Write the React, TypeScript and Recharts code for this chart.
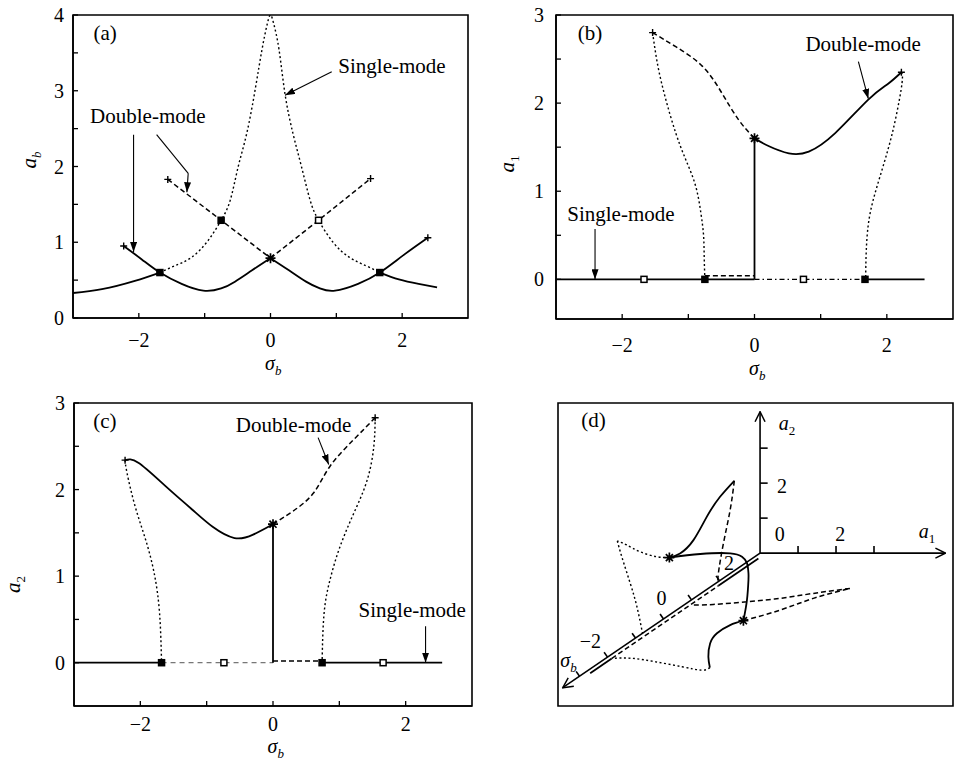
import type { ReactNode } from "react";
import {
  ComposedChart,
  Line,
  XAxis,
  YAxis,
  ReferenceLine,
  ReferenceDot,
  ReferenceArea,
} from "recharts";

const FONT = '"Liberation Serif", "Times New Roman", Times, serif';
const INK = "#000";

type P = [number, number];
type T = [number, number, number];

// shared sigma_b ticks (labels only on even values)
const sigmaTicks = [-2, -1, 0, 1, 2];
const ampTicks4 = [0, 0.5, 1, 1.5, 2, 2.5, 3, 3.5, 4];
const ampTicks3 = [0, 0.5, 1, 1.5, 2, 2.5, 3];

// ---- (a) a_b ----
const abSingleLeft: P[] = [[-3, 0.33], [-2.56, 0.38], [-2.06, 0.49], [-1.68, 0.6]];
const abSinglePeak: P[] = [
  [-1.68, 0.6], [-1.45, 0.69], [-1.2, 0.8], [-0.95, 1.02], [-0.75, 1.29],
  [-0.61, 1.56], [-0.49, 2.0], [-0.36, 2.44], [-0.23, 3.03], [-0.13, 3.54],
  [-0.05, 3.88], [0, 4.0], [0.05, 3.88], [0.13, 3.54], [0.22, 2.96],
  [0.34, 2.44], [0.47, 2.0], [0.6, 1.56], [0.73, 1.29], [0.95, 1.0],
  [1.2, 0.8], [1.45, 0.69], [1.66, 0.6],
];
const abSingleRight: P[] = [[1.66, 0.6], [1.95, 0.51], [2.25, 0.45], [2.53, 0.405]];
const abDoubleLeft: P[] = [
  [-2.23, 0.95], [-1.95, 0.77], [-1.68, 0.6], [-1.35, 0.45], [-1.02, 0.36],
  [-0.75, 0.39], [-0.54, 0.48], [-0.28, 0.63], [0, 0.79],
];
const abDoubleRight: P[] = [
  [0, 0.79], [0.28, 0.63], [0.54, 0.48], [0.75, 0.39], [0.98, 0.36],
  [1.33, 0.45], [1.66, 0.6], [2.02, 0.83], [2.39, 1.06],
];
const abDoubleDashLeft: P[] = [[-1.56, 1.83], [-0.75, 1.29], [0, 0.79]];
const abDoubleDashRight: P[] = [[0, 0.79], [0.73, 1.29], [1.52, 1.84]];
const abSquaresFilled: P[] = [[-1.68, 0.6], [1.66, 0.6], [-0.75, 1.29]];
const abSquaresOpen: P[] = [[0.73, 1.29]];
const abStars: P[] = [[0, 0.79]];
const abEnds: P[] = [[-2.23, 0.95], [2.39, 1.06], [-1.56, 1.83], [1.52, 1.84]];

// ---- (b) a_1 ----
const a1Zero: P[] = [[-3, 0], [0, 0]];
const a1ZeroUnstable: P[] = [[0, 0], [1.66, 0]];
const a1ZeroRight: P[] = [[1.66, 0], [2.57, 0]];
const a1Offset: P[] = [[-0.75, 0.04], [0, 0.04]];
const a1Jump: P[] = [[0, 0], [0, 1.6]];
const a1Upper: P[] = [[-1.54, 2.8], [-1.19, 2.64], [-0.79, 2.42], [-0.49, 2.11], [-0.24, 1.81], [0, 1.6]];
const a1LeftFold: P[] = [
  [-1.54, 2.8], [-1.46, 2.42], [-1.34, 2.04], [-1.19, 1.66], [-1.04, 1.36],
  [-0.89, 1.06], [-0.81, 0.75], [-0.77, 0.5], [-0.76, 0.25], [-0.75, 0],
];
const a1Stable: P[] = [
  [0, 1.6], [0.22, 1.51], [0.52, 1.43], [0.82, 1.45], [1.22, 1.66],
  [1.72, 2.04], [2.02, 2.22], [2.22, 2.35],
];
const a1RightFold: P[] = [
  [2.22, 2.35], [2.23, 2.23], [2.14, 1.85], [2.02, 1.48], [1.87, 1.1],
  [1.74, 0.72], [1.69, 0.34], [1.68, 0],
];
const a1SquaresFilled: P[] = [[-0.75, 0], [1.67, 0]];
const a1SquaresOpen: P[] = [[-1.67, 0], [0.74, 0]];
const a1Stars: P[] = [[0, 1.6]];
const a1Ends: P[] = [[-1.54, 2.8], [2.22, 2.35]];

// ---- (c) a_2 ----
const a2ZeroLeft: P[] = [[-3, 0], [-1.68, 0]];
const a2ZeroMid: P[] = [[-1.68, 0], [0, 0]];
const a2Offset: P[] = [[0, 0.02], [0.74, 0.02]];
const a2ZeroRight: P[] = [[0.74, 0], [2.55, 0]];
const a2Jump: P[] = [[0, 0], [0, 1.6]];
const a2Stable: P[] = [
  [-2.23, 2.34], [-2.03, 2.31], [-1.62, 2.04], [-1.22, 1.77], [-0.91, 1.57],
  [-0.58, 1.44], [-0.3, 1.48], [0, 1.6],
];
const a2Upper: P[] = [[0, 1.6], [0.3, 1.75], [0.61, 1.96], [0.86, 2.27], [1.22, 2.58], [1.54, 2.83]];
const a2LeftFold: P[] = [
  [-2.23, 2.34], [-2.2, 2.19], [-2.08, 1.81], [-1.92, 1.42], [-1.79, 1.03],
  [-1.71, 0.57], [-1.68, 0],
];
const a2RightFold: P[] = [
  [1.54, 2.83], [1.52, 2.5], [1.42, 2.11], [1.22, 1.73], [1.01, 1.34],
  [0.86, 0.96], [0.77, 0.57], [0.74, 0],
];
const a2SquaresFilled: P[] = [[-1.68, 0], [0.74, 0]];
const a2SquaresOpen: P[] = [[-0.74, 0], [1.66, 0]];
const a2Stars: P[] = [[0, 1.6]];
const a2Ends: P[] = [[-2.23, 2.34], [1.54, 2.83]];

// ---- (d) branches in (sigma_b, a1, a2) ----
const dA2Stable: T[] = [[0.21, 0, 1.64], [0.59, 0, 1.55], [1.07, 0, 1.67], [1.55, 0, 2.08], [2.02, 0, 2.39], [2.53, 0, 2.57]];
const dA2Dashed: T[] = [[2.53, 0, 2.57], [2.38, 0, 1.81], [2.14, 0, 0.99], [1.96, 0, 0.23], [1.96, 0, 0]];
const dA2DotTop: T[] = [[0.21, 0, 1.64], [-0.24, 0, 1.91], [-0.84, 0, 2.38], [-1.31, 0, 2.83], [-1.65, 0, 3.13]];
const dA2DotDown: T[] = [[-1.65, 0, 3.13], [-1.49, 0, 2.59], [-1.19, 0, 1.67], [-0.95, 0, 0.87], [-0.75, 0, 0]];
const dA1DashOut: T[] = [[-0.09, 2.17, 0], [0.47, 2.73, 0], [1.08, 3.15, 0], [1.6, 3.73, 0]];
const dA1DashBack: T[] = [[1.6, 3.73, 0], [1.34, 2.96, 0], [1.08, 2.27, 0], [0.9, 1.53, 0], [0.76, 0.75, 0], [0.73, 0.21, 0]];
const dA1Stable: T[] = [[-0.09, 2.17, 0], [-0.32, 1.99, 0], [-0.75, 1.96, 0], [-1.28, 2.17, 0], [-1.98, 2.64, 0], [-2.55, 3.1, 0]];
const dA1Dot: T[] = [[-2.55, 3.1, 0], [-2.68, 2.98, 0], [-2.5, 2.33, 0], [-2.24, 1.43, 0], [-2.06, 0.69, 0], [-2.06, 0.16, 0]];
const dArc: T[] = [
  [0.21, 0, 1.64], [0.05, 0.93, 1.83], [0.05, 1.72, 1.85], [0.05, 2.03, 1.75], [0.05, 2.16, 1.57],
  [0.05, 2.2, 1.28], [0.05, 2.2, 1.09], [0.05, 2.16, 0.51], [-0.09, 2.17, 0],
];
const dZeroA: T[] = [[-2.62, 0, -0.12], [-1.85, 0, -0.12]];
const dZeroMid: T[] = [[-1.85, 0, -0.12], [1.96, 0, -0.12]];
const dZeroB: T[] = [[1.96, 0, -0.12], [3.39, 0, -0.12]];
const dStars: T[] = [[0.21, 0, 1.64], [-0.09, 2.17, 0]];
const dSigmaTicks = [-3, -2, -1, 0, 1, 2];
const dAmpTicks = [1, 2, 3];

// oblique view: a1 runs right, a2 runs up, sigma_b recedes along the diagonal
const SIG_AT_ORIGIN = 3.45;
const KU = 28 / 38;
const KV = 19.1 / 35;
const proj = ([s, a1, a2]: T) => ({
  x: a1 + KU * (s - SIG_AT_ORIGIN),
  y: a2 + KV * (s - SIG_AT_ORIGIN),
});
const flat = (d: P[]) => d.map(([x, y]) => ({ x, y }));

const STYLE: Record<string, any> = {
  solid: { strokeWidth: 1.8 },
  dash: { strokeWidth: 1.5, strokeDasharray: "5 3" },
  dot: { strokeWidth: 1.4, strokeDasharray: "2 2.5" },
  faint: { strokeWidth: 1, strokeDasharray: "5 4", stroke: "#555" },
  dashdot: { strokeWidth: 1.3, strokeDasharray: "5 3 1.5 3" },
};

type Seg = { d: { x: number; y: number }[]; k: string; linear?: boolean };

function curves(list: Seg[], tag: string) {
  return list.map((g, i) => (
    <Line
      key={`${tag}${i}`}
      data={g.d}
      dataKey="y"
      type={g.linear ? "linear" : "natural"}
      stroke={INK}
      fill="none"
      dot={false}
      activeDot={false}
      isAnimationActive={false}
      {...STYLE[g.k]}
    />
  ));
}

type Mark = "filled" | "open" | "star" | "plus";

function glyph(kind: Mark, cx: number, cy: number, key: any) {
  if (kind === "plus")
    return <path key={key} d={`M${cx - 3.5},${cy}h7M${cx},${cy - 3.5}v7`} stroke={INK} strokeWidth={1.4} />;
  if (kind === "star") {
    const d = [0, 45, 90, 135]
      .map((deg) => {
        const t = (deg * Math.PI) / 180;
        const dx = 5 * Math.cos(t);
        const dy = 5 * Math.sin(t);
        return `M${cx - dx},${cy - dy}L${cx + dx},${cy + dy}`;
      })
      .join("");
    return <path key={key} d={d} stroke={INK} strokeWidth={1.7} />;
  }
  return (
    <rect key={key} x={cx - 3} y={cy - 3} width={6} height={6}
      fill={kind === "filled" ? INK : "#fff"} stroke={INK} strokeWidth={1.5} />
  );
}

function marks(d: { x: number; y: number }[], kind: Mark, key: string) {
  return (
    <Line
      key={key}
      data={d}
      dataKey="y"
      stroke="none"
      fill="none"
      activeDot={false}
      isAnimationActive={false}
      dot={(p: any) => glyph(kind, p.cx, p.cy, p.index)}
    />
  );
}

function arrow(path: P[], key: string, head = "head") {
  return path.slice(1).map((p, i) => (
    <ReferenceLine
      key={`${key}${i}`}
      segment={[{ x: path[i][0], y: path[i][1] }, { x: p[0], y: p[1] }]}
      stroke={INK}
      strokeWidth={1.1}
      ifOverflow="visible"
      markerEnd={i === path.length - 2 ? `url(#${head})` : undefined}
    />
  ));
}

function note(x: number, y: number, body: ReactNode, key: string, anchor = "start", size = 21) {
  return (
    <ReferenceDot
      key={key}
      x={x}
      y={y}
      r={0}
      ifOverflow="visible"
      shape={(p: any) => (
        <text x={p.cx} y={p.cy} textAnchor={anchor} fontFamily={FONT} fontSize={size} fill={INK}>
          {body}
        </text>
      )}
    />
  );
}

function sub(base: string, s: string, italicSub = true) {
  return [
    <tspan key="b" fontStyle="italic">{base}</tspan>,
    <tspan key="s" fontStyle={italicSub ? "italic" : "normal"} fontSize={13} dy={5}>{s}</tspan>,
  ];
}

const fmt = (v: number) => (v < 0 ? `\u2212${-v}` : `${v}`);

type AxisSpec = {
  yDomain: [number, number];
  yTicks: number[];
  yGap: number;
  xDrop: number;
  xTitleDrop: number;
  yTitle: ReactNode;
  yTitleOff: number;
  yTitleShift: number;
};

function frame(c: AxisSpec) {
  const [y0, y1] = c.yDomain;
  return [
    <XAxis
      key="xa"
      type="number"
      dataKey="x"
      domain={[-3, 3]}
      ticks={sigmaTicks}
      interval={0}
      allowDataOverflow
      height={50}
      axisLine={{ stroke: INK, strokeWidth: 1.6 }}
      tickLine={{ stroke: INK, strokeWidth: 1.3 }}
      tickSize={-5}
      tickMargin={5}
      tick={(p: any) =>
        p.payload.value % 2 !== 0 ? (
          <g />
        ) : (
          <text x={p.x} y={p.y + c.xDrop} textAnchor="middle" fontFamily={FONT} fontSize={20} fill={INK}>
            {fmt(p.payload.value)}
          </text>
        )
      }
      label={{
        content: (p: any) => {
          const vb = p.viewBox;
          return (
            <text x={vb.x + vb.width / 2 - 5.5} y={vb.y + c.xTitleDrop} fontFamily={FONT} fontSize={20} fill={INK}>
              {sub("σ", "b")}
            </text>
          );
        },
      }}
    />,
    <YAxis
      key="ya"
      type="number"
      domain={c.yDomain}
      ticks={c.yTicks}
      interval={0}
      allowDataOverflow
      width={60}
      axisLine={{ stroke: INK, strokeWidth: 1.6 }}
      tickLine={{ stroke: INK, strokeWidth: 1.3 }}
      tickSize={-5}
      tickMargin={5}
      tick={(p: any) =>
        Number.isInteger(p.payload.value) ? (
          <text x={p.x - c.yGap} y={p.y + 7} textAnchor="end" fontFamily={FONT} fontSize={20} fill={INK}>
            {fmt(p.payload.value)}
          </text>
        ) : (
          <g />
        )
      }
      label={{
        content: (p: any) => {
          const vb = p.viewBox;
          const x = vb.x + vb.width - c.yTitleOff;
          const y = vb.y + vb.height / 2 + c.yTitleShift;
          return (
            <text x={x} y={y} transform={`rotate(-90 ${x} ${y})`} textAnchor="middle"
              fontFamily={FONT} fontSize={21} fill={INK}>
              {c.yTitle}
            </text>
          );
        },
      }}
    />,
    <ReferenceArea key="box" x1={-3} x2={3} y1={y0} y2={y1} fill="none" stroke={INK} strokeWidth={1.6} ifOverflow="visible" />,
  ];
}

const aCurves: Seg[] = [
  { d: flat(abSingleLeft), k: "solid" },
  { d: flat(abSinglePeak), k: "dot" },
  { d: flat(abSingleRight), k: "solid" },
  { d: flat(abDoubleLeft), k: "solid" },
  { d: flat(abDoubleRight), k: "solid" },
  { d: flat(abDoubleDashLeft), k: "dash", linear: true },
  { d: flat(abDoubleDashRight), k: "dash", linear: true },
];

const bCurves: Seg[] = [
  { d: flat(a1Zero), k: "solid", linear: true },
  { d: flat(a1ZeroUnstable), k: "dashdot", linear: true },
  { d: flat(a1ZeroRight), k: "solid", linear: true },
  { d: flat(a1Offset), k: "dash", linear: true },
  { d: flat(a1Jump), k: "solid", linear: true },
  { d: flat(a1Upper), k: "dash" },
  { d: flat(a1LeftFold), k: "dot" },
  { d: flat(a1Stable), k: "solid" },
  { d: flat(a1RightFold), k: "dot" },
];

const cCurves: Seg[] = [
  { d: flat(a2ZeroLeft), k: "solid", linear: true },
  { d: flat(a2ZeroMid), k: "faint", linear: true },
  { d: flat(a2Offset), k: "dash", linear: true },
  { d: flat(a2ZeroRight), k: "solid", linear: true },
  { d: flat(a2Jump), k: "solid", linear: true },
  { d: flat(a2Stable), k: "solid" },
  { d: flat(a2Upper), k: "dash" },
  { d: flat(a2LeftFold), k: "dot" },
  { d: flat(a2RightFold), k: "dot" },
];

const dCurves: Seg[] = [
  { d: dZeroA.map(proj), k: "solid", linear: true },
  { d: dZeroMid.map(proj), k: "dash", linear: true },
  { d: dZeroB.map(proj), k: "solid", linear: true },
  { d: dA2Stable.map(proj), k: "solid" },
  { d: dA2Dashed.map(proj), k: "dash" },
  { d: dA2DotTop.map(proj), k: "dot" },
  { d: dA2DotDown.map(proj), k: "dot" },
  { d: dA1DashOut.map(proj), k: "dash" },
  { d: dA1DashBack.map(proj), k: "dash" },
  { d: dA1Stable.map(proj), k: "solid" },
  { d: dA1Dot.map(proj), k: "dot" },
  { d: dArc.map(proj), k: "solid" },
];

function seg3(a: T, b: T, key: string, head?: string) {
  const p = proj(a);
  const q = proj(b);
  return (
    <ReferenceLine
      key={key}
      segment={[p, q]}
      stroke={INK}
      strokeWidth={1.6}
      ifOverflow="visible"
      markerEnd={head ? `url(#${head})` : undefined}
    />
  );
}

function dLabel(at: T, du: number, dv: number, body: ReactNode, key: string, anchor = "middle") {
  const p = proj(at);
  return note(p.x + du, p.y + dv, body, key, anchor, 20);
}

function Defs() {
  return (
    <svg width={0} height={0} style={{ position: "absolute" }}>
      <defs>
        <marker id="head" viewBox="0 0 10 7" refX={10} refY={3.5} markerWidth={10} markerHeight={7}
          markerUnits="userSpaceOnUse" orient="auto">
          <path d="M0,0L10,3.5L0,7Z" fill={INK} />
        </marker>
        <marker id="chevron" viewBox="0 0 12 12" refX={11} refY={6} markerWidth={12} markerHeight={12}
          markerUnits="userSpaceOnUse" orient="auto">
          <path d="M1,1L11,6L1,11" fill="none" stroke={INK} strokeWidth={1.5} />
        </marker>
      </defs>
    </svg>
  );
}

const O: T = [SIG_AT_ORIGIN, 0, 0];

export default function App() {
  return (
    <div style={{ position: "absolute", left: 0, top: 0, width: 954, height: 761, background: "#fff", overflow: "hidden" }}>
      <Defs />

      <div style={{ position: "absolute", left: 0, top: 0 }}>
        <ComposedChart width={477} height={392} margin={{ top: 15, right: 9, bottom: 24, left: 13 }}>
          {frame({
            yDomain: [0, 4], yTicks: ampTicks4, yGap: 9, xDrop: 29, xTitleDrop: 52,
            yTitle: sub("a", "b"), yTitleOff: 37, yTitleShift: -6.5,
          })}
          {curves(aCurves, "a")}
          {marks(flat(abSquaresFilled), "filled", "asf")}
          {marks(flat(abSquaresOpen), "open", "aso")}
          {marks(flat(abStars), "star", "ast")}
          {marks(flat(abEnds), "plus", "ape")}
          {note(-2.69, 3.67, "(a)", "alab")}
          {note(1.03, 3.24, "Single-mode", "asm")}
          {note(-2.74, 2.57, "Double-mode", "adm")}
          {arrow([[0.93, 3.25], [0.22, 2.94]], "aar1")}
          {arrow([[-2.08, 2.42], [-2.08, 0.87]], "aar2")}
          {arrow([[-1.73, 2.42], [-1.25, 1.91], [-1.27, 1.66]], "aar3")}
        </ComposedChart>
      </div>

      <div style={{ position: "absolute", left: 477, top: 0 }}>
        <ComposedChart width={477} height={392} margin={{ top: 15, right: 1, bottom: 23, left: 19 }}>
          {frame({
            yDomain: [-0.45, 3], yTicks: ampTicks3, yGap: 12, xDrop: 33, xTitleDrop: 56,
            yTitle: sub("a", "1", false), yTitleOff: 42, yTitleShift: -3,
          })}
          {curves(bCurves, "b")}
          {marks(flat(a1SquaresFilled), "filled", "bsf")}
          {marks(flat(a1SquaresOpen), "open", "bso")}
          {marks(flat(a1Stars), "star", "bst")}
          {marks(flat(a1Ends), "plus", "bpe")}
          {note(-2.67, 2.72, "(b)", "blab")}
          {note(0.77, 2.59, "Double-mode", "bdm")}
          {note(-2.83, 0.66, "Single-mode", "bsm")}
          {arrow([[1.57, 2.47], [1.72, 2.05]], "bar1")}
          {arrow([[-2.41, 0.57], [-2.41, 0]], "bar2")}
        </ComposedChart>
      </div>

      <div style={{ position: "absolute", left: 0, top: 380 }}>
        <ComposedChart width={477} height={381} margin={{ top: 23, right: 5, bottom: 5, left: 14 }}>
          {frame({
            yDomain: [-0.5, 3], yTicks: ampTicks3, yGap: 9, xDrop: 24.5, xTitleDrop: 47,
            yTitle: sub("a", "2", false), yTitleOff: 54.5, yTitleShift: 30,
          })}
          {curves(cCurves, "c")}
          {marks(flat(a2SquaresFilled), "filled", "csf")}
          {marks(flat(a2SquaresOpen), "open", "cso")}
          {marks(flat(a2Stars), "star", "cst")}
          {marks(flat(a2Ends), "plus", "cpe")}
          {note(-2.71, 2.71, "(c)", "clab")}
          {note(-0.56, 2.67, "Double-mode", "cdm")}
          {note(1.29, 0.53, "Single-mode", "csm")}
          {arrow([[0.68, 2.6], [0.84, 2.29]], "car1")}
          {arrow([[2.3, 0.42], [2.3, 0]], "car2")}
        </ComposedChart>
      </div>

      <div style={{ position: "absolute", left: 477, top: 380 }}>
        <ComposedChart width={477} height={381} margin={{ top: 23, right: 1, bottom: 55, left: 81 }}>
          <XAxis type="number" dataKey="x" domain={[-5.32, 5.08]} hide allowDataOverflow />
          <YAxis type="number" domain={[-4.37, 4.29]} hide allowDataOverflow />
          <ReferenceArea x1={-5.32} x2={5.08} y1={-4.37} y2={4.29} fill="none" stroke={INK} strokeWidth={1.6} ifOverflow="visible" />
          {seg3(O, [SIG_AT_ORIGIN, 4.88, 0], "ax1", "chevron")}
          {seg3(O, [SIG_AT_ORIGIN, 0, 4.04], "ax2", "chevron")}
          {seg3(O, [-3.6, 0, 0], "axs", "chevron")}
          {dAmpTicks.map((k) => seg3([SIG_AT_ORIGIN, k, 0], [SIG_AT_ORIGIN, k, 0.2], `t1${k}`))}
          {dAmpTicks.map((k) => seg3([SIG_AT_ORIGIN, 0, k], [SIG_AT_ORIGIN, 0.2, k], `t2${k}`))}
          {dSigmaTicks.map((k) => seg3([k, 0, 0], [k, -0.09, 0.14], `ts${k}`))}
          {curves(dCurves, "d")}
          {marks(dStars.map(proj), "star", "dst")}
          {note(-4.71, 3.6, "(d)", "dlab")}
          {dLabel(O, 0.52, 0.34, "0", "d0")}
          {dLabel([SIG_AT_ORIGIN, 2, 0], 0.11, 0.34, "2", "d12")}
          {dLabel([SIG_AT_ORIGIN, 0, 2], 0.58, -0.29, "2", "d22")}
          {dLabel([SIG_AT_ORIGIN, 4.18, 0], 0, 0.43, sub("a", "1", false), "da1", "start")}
          {dLabel([SIG_AT_ORIGIN, 0.49, 3.51], 0, 0, sub("a", "2", false), "da2", "start")}
          {dLabel([2, 0, 0], 0.25, 0.3, fmt(2), "ds2")}
          {dLabel([0, 0, 0], -0.05, 0.39, fmt(0), "ds0")}
          {dLabel([-2, 0, 0], -0.45, 0.26, fmt(-2), "dsm2")}
          {dLabel([-3.2, 0, 0], -0.36, 0.37, sub("σ", "b"), "dsig", "start")}
        </ComposedChart>
      </div>
    </div>
  );
}
